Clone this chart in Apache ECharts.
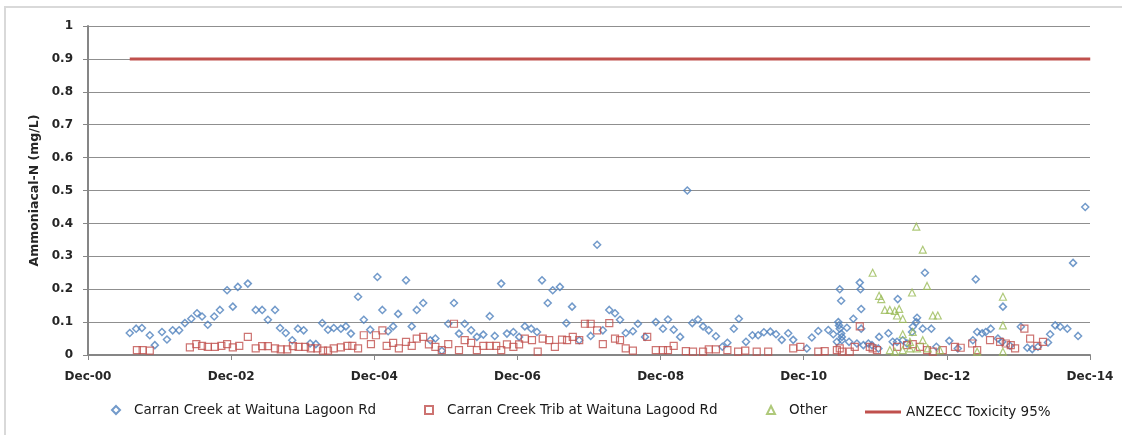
<!DOCTYPE html>
<html>
<head>
<meta charset="utf-8">
<script src="https://cdn.jsdelivr.net/npm/echarts@6/dist/echarts.min.js"></script>
<style>
  html, body { margin: 0; padding: 0; background: #fff; }
  #chart { width: 1122px; height: 435px; }
</style>
</head>
<body>
<div id="chart"></div>
<script>
// sample dates as decimal years, values in mg/L
const carranDates = [2001.50, 2001.59, 2001.67, 2001.78, 2001.85, 2001.95, 2002.02, 2002.10, 2002.19, 2002.27,
  2002.36, 2002.44, 2002.51, 2002.59, 2002.68, 2002.76, 2002.86, 2002.94, 2003.01, 2003.15,
  2003.26, 2003.35, 2003.43, 2003.53, 2003.60, 2003.68, 2003.77, 2003.85, 2003.93, 2004.02,
  2004.10, 2004.19, 2004.27, 2004.35, 2004.45, 2004.52, 2004.59, 2004.69, 2004.77, 2004.86,
  2004.96, 2005.03, 2005.11, 2005.18, 2005.25, 2005.36, 2005.44, 2005.51, 2005.60, 2005.70,
  2005.77, 2005.86, 2005.95, 2006.03, 2006.10, 2006.18, 2006.27, 2006.35, 2006.44, 2006.53,
  2006.60, 2006.69, 2006.77, 2006.86, 2006.94, 2007.02, 2007.11, 2007.19, 2007.26, 2007.34,
  2007.41, 2007.51, 2007.60, 2007.68, 2007.78, 2007.94, 2008.03, 2008.11, 2008.20, 2008.28,
  2008.35, 2008.43, 2008.53, 2008.60, 2008.70, 2008.85, 2008.95, 2009.02, 2009.10, 2009.19,
  2009.29, 2009.36, 2009.44, 2009.51, 2009.59, 2009.69, 2009.78, 2009.85, 2009.94, 2010.01,
  2010.11, 2010.20, 2010.28, 2010.36, 2010.45, 2010.53, 2010.61, 2010.70, 2010.77, 2010.96,
  2011.03, 2011.12, 2011.26, 2011.33, 2011.38, 2011.40, 2011.41, 2011.42, 2011.42, 2011.44,
  2011.44, 2011.45, 2011.45, 2011.52, 2011.55, 2011.61, 2011.66, 2011.70, 2011.71, 2011.72,
  2011.72, 2011.75, 2011.82, 2011.87, 2011.96, 2011.97, 2012.10, 2012.16, 2012.22, 2012.23,
  2012.30, 2012.36, 2012.43, 2012.44, 2012.49, 2012.50, 2012.58, 2012.61, 2012.70, 2012.77,
  2012.95, 2013.07, 2013.28, 2013.32, 2013.34, 2013.41, 2013.46, 2013.53, 2013.63, 2013.69,
  2013.70, 2013.80, 2013.95, 2014.04, 2014.11, 2014.19, 2014.33, 2014.36, 2014.43, 2014.50,
  2014.60, 2014.68, 2014.75, 2014.85];
const carranValues = [0.067, 0.08, 0.082, 0.06, 0.03, 0.07, 0.047, 0.075, 0.075, 0.097,
  0.11, 0.127, 0.117, 0.092, 0.117, 0.137, 0.197, 0.147, 0.207, 0.217,
  0.137, 0.137, 0.107, 0.137, 0.082, 0.067, 0.045, 0.08, 0.075, 0.035,
  0.033, 0.097, 0.077, 0.082, 0.08, 0.087, 0.065, 0.177, 0.107, 0.077,
  0.237, 0.137, 0.072, 0.087, 0.125, 0.227, 0.087, 0.137, 0.158, 0.045,
  0.05, 0.013, 0.095, 0.158, 0.065, 0.095, 0.075, 0.055, 0.062, 0.118,
  0.058, 0.217, 0.065, 0.07, 0.055, 0.087, 0.08, 0.07, 0.227, 0.158,
  0.197, 0.207, 0.097, 0.147, 0.045, 0.058, 0.335, 0.075, 0.137, 0.127,
  0.107, 0.067, 0.072, 0.095, 0.055, 0.1, 0.08, 0.108, 0.077, 0.055,
  0.5, 0.097, 0.108, 0.087, 0.075, 0.057, 0.025, 0.037, 0.08, 0.11,
  0.04, 0.06, 0.06, 0.069, 0.071, 0.063, 0.046, 0.066, 0.046, 0.02,
  0.053, 0.073, 0.076, 0.063, 0.04, 0.1, 0.09, 0.2, 0.08, 0.165,
  0.065, 0.055, 0.045, 0.083, 0.04, 0.11, 0.035, 0.22, 0.2, 0.14,
  0.08, 0.03, 0.035, 0.03, 0.02, 0.055, 0.066, 0.04, 0.04, 0.17,
  0.045, 0.035, 0.07, 0.086, 0.1, 0.113, 0.08, 0.25, 0.08, 0.025,
  0.043, 0.02, 0.045, 0.23, 0.07, 0.066, 0.07, 0.08, 0.05, 0.04,
  0.147, 0.028, 0.086, 0.022, 0.018, 0.025, 0.038, 0.063, 0.09, 0.086,
  0.08, 0.28, 0.058, 0.45];

const tribDates = [2001.60, 2001.68, 2001.78, 2002.34, 2002.43, 2002.51, 2002.59, 2002.69, 2002.78, 2002.86,
  2002.94, 2003.03, 2003.15, 2003.26, 2003.35, 2003.43, 2003.53, 2003.61, 2003.70, 2003.78,
  2003.86, 2003.95, 2004.03, 2004.12, 2004.20, 2004.27, 2004.35, 2004.45, 2004.54, 2004.61,
  2004.69, 2004.77, 2004.87, 2004.94, 2005.03, 2005.09, 2005.18, 2005.26, 2005.36, 2005.44,
  2005.51, 2005.60, 2005.68, 2005.77, 2005.86, 2005.95, 2006.03, 2006.10, 2006.18, 2006.27,
  2006.35, 2006.44, 2006.53, 2006.62, 2006.69, 2006.77, 2006.86, 2006.94, 2007.02, 2007.12,
  2007.20, 2007.27, 2007.36, 2007.44, 2007.54, 2007.61, 2007.69, 2007.78, 2007.86, 2007.94,
  2008.03, 2008.11, 2008.20, 2008.28, 2008.35, 2008.43, 2008.53, 2008.73, 2008.85, 2008.95,
  2009.02, 2009.10, 2009.27, 2009.37, 2009.51, 2009.59, 2009.69, 2009.85, 2010.00, 2010.10,
  2010.26, 2010.42, 2010.77, 2010.87, 2011.12, 2011.21, 2011.38, 2011.42, 2011.45, 2011.56,
  2011.63, 2011.70, 2011.84, 2011.88, 2011.94, 2012.22, 2012.36, 2012.44, 2012.54, 2012.64,
  2012.72, 2012.86, 2013.03, 2013.11, 2013.27, 2013.34, 2013.52, 2013.66, 2013.74, 2013.81,
  2013.87, 2014.00, 2014.08, 2014.18, 2014.26];
const tribValues = [0.015, 0.015, 0.013, 0.023, 0.033, 0.028, 0.025, 0.025, 0.028, 0.033,
  0.023, 0.028, 0.055, 0.02, 0.027, 0.027, 0.02, 0.017, 0.017, 0.027,
  0.025, 0.025, 0.02, 0.02, 0.013, 0.013, 0.02, 0.023, 0.028, 0.028,
  0.02, 0.06, 0.033, 0.06, 0.075, 0.028, 0.037, 0.02, 0.04, 0.028,
  0.05, 0.055, 0.032, 0.025, 0.015, 0.033, 0.095, 0.015, 0.045, 0.037,
  0.015, 0.028, 0.028, 0.028, 0.015, 0.032, 0.025, 0.032, 0.05, 0.045,
  0.01, 0.05, 0.045, 0.025, 0.047, 0.045, 0.055, 0.045, 0.095, 0.095,
  0.075, 0.033, 0.097, 0.05, 0.045, 0.02, 0.013, 0.055, 0.015, 0.015,
  0.015, 0.028, 0.012, 0.01, 0.01, 0.017, 0.017, 0.015, 0.01, 0.013,
  0.01, 0.01, 0.02, 0.025, 0.01, 0.012, 0.015, 0.02, 0.01, 0.01,
  0.025, 0.087, 0.025, 0.02, 0.015, 0.025, 0.03, 0.033, 0.025, 0.015,
  0.01, 0.015, 0.025, 0.022, 0.035, 0.015, 0.045, 0.04, 0.035, 0.03,
  0.02, 0.08, 0.05, 0.028, 0.04];

const otherDates = [2011.88, 2011.97, 2012.00, 2012.05, 2012.12, 2012.19, 2012.25, 2012.22, 2012.30, 2012.30,
  2012.43, 2012.49, 2012.58, 2012.64, 2012.72, 2012.79, 2012.44, 2012.40, 2012.50, 2012.58,
  2012.65, 2012.82, 2012.40, 2012.30, 2012.19, 2012.12, 2013.34, 2013.70, 2013.70, 2013.70];
const otherValues = [0.25, 0.18, 0.17, 0.137, 0.137, 0.134, 0.14, 0.12, 0.11, 0.063,
  0.19, 0.39, 0.32, 0.21, 0.12, 0.12, 0.07, 0.04, 0.02, 0.045,
  0.02, 0.015, 0.02, 0.015, 0.01, 0.015, 0.01, 0.177, 0.09, 0.01];

const anzeccDates = [2001.5, 2014.92];
const anzeccValues = [0.9, 0.9];

const xTickYears = ['Dec-00', 'Dec-02', 'Dec-04', 'Dec-06', 'Dec-08', 'Dec-10', 'Dec-12', 'Dec-14'];

// x axis runs in years counted from Dec 2000
const START = 2000 + 11 / 12;
function toPoints(dates, values) {
  return dates.map((d, i) => [d - START, values[i]]);
}

const chart = echarts.init(document.getElementById('chart'));
const font = 'DejaVu Sans';
const blue = '#4F81BD', red = '#C0504D', green = '#9BBB59';
const legendText = { fontFamily: font, fontSize: 13.5, color: '#1a1a1a', padding: [0, 0, 0, 9] };

function legendAt(left, name, extra) {
  return Object.assign({
    left: left, top: 398, itemWidth: 8, itemHeight: 8,
    textStyle: legendText, data: [name]
  }, extra || {});
}

const option = {
  animation: false,
  graphic: [{
    type: 'rect',
    shape: { x: 5, y: 7, width: 1130, height: 440 },
    style: { fill: 'none', stroke: '#d9d9d9', lineWidth: 2 }
  }],
  grid: { left: 88, right: 32, top: 26, bottom: 80 },
  xAxis: {
    type: 'value', min: 0, max: 14, interval: 2,
    axisLine: { lineStyle: { color: '#868686', width: 2 } },
    axisTick: { show: true, length: 5, lineStyle: { color: '#868686' } },
    splitLine: { show: false },
    axisLabel: {
      margin: 16, color: '#262626', fontFamily: font, fontSize: 12, fontWeight: 'bold',
      formatter: v => xTickYears[Math.round(v / 2)]
    }
  },
  yAxis: {
    type: 'value', min: 0, max: 1, interval: 0.1,
    name: 'Ammoniacal-N (mg/L)', nameLocation: 'middle', nameGap: 44,
    nameTextStyle: { fontFamily: font, fontSize: 12.5, fontWeight: 'bold', color: '#262626' },
    axisLine: { show: true, lineStyle: { color: '#868686', width: 2 } },
    axisTick: { show: true, length: 5, lineStyle: { color: '#868686' } },
    splitLine: { lineStyle: { color: '#8f8f8f', width: 1 } },
    axisLabel: {
      margin: 15, color: '#262626', fontFamily: font, fontSize: 12, fontWeight: 'bold',
      formatter: v => String(Math.round(v * 10) / 10)
    }
  },
  legend: [
    legendAt(106, 'Carran Creek at Waituna Lagoon Rd'),
    legendAt(419, 'Carran Creek Trib at Waituna Lagood Rd'),
    legendAt(761, 'Other'),
    legendAt(860, 'ANZECC Toxicity 95%', {
      itemWidth: 36, itemHeight: 3, top: 400,
      textStyle: Object.assign({}, legendText, { padding: [0, 0, 0, 0] }),
      data: [{ name: 'ANZECC Toxicity 95%', icon: 'rect' }]
    })
  ],
  series: [{
    name: 'Carran Creek at Waituna Lagoon Rd', type: 'scatter',
    symbol: 'diamond', symbolSize: 7,
    itemStyle: { color: 'rgba(255,255,255,0)', borderColor: blue, borderWidth: 1.5 },
    data: toPoints(carranDates, carranValues)
  }, {
    name: 'Carran Creek Trib at Waituna Lagood Rd', type: 'scatter',
    symbol: 'rect', symbolSize: 7,
    itemStyle: { color: 'rgba(255,255,255,0)', borderColor: red, borderWidth: 1.2 },
    data: toPoints(tribDates, tribValues)
  }, {
    name: 'Other', type: 'scatter',
    symbol: 'triangle', symbolSize: 7,
    itemStyle: { color: 'rgba(255,255,255,0)', borderColor: green, borderWidth: 1.2 },
    data: toPoints(otherDates, otherValues)
  }, {
    name: 'ANZECC Toxicity 95%', type: 'line',
    symbol: 'none', color: red,
    lineStyle: { color: red, width: 3 },
    itemStyle: { color: red },
    data: toPoints(anzeccDates, anzeccValues)
  }]
};
chart.setOption(option);
</script>
</body>
</html>
